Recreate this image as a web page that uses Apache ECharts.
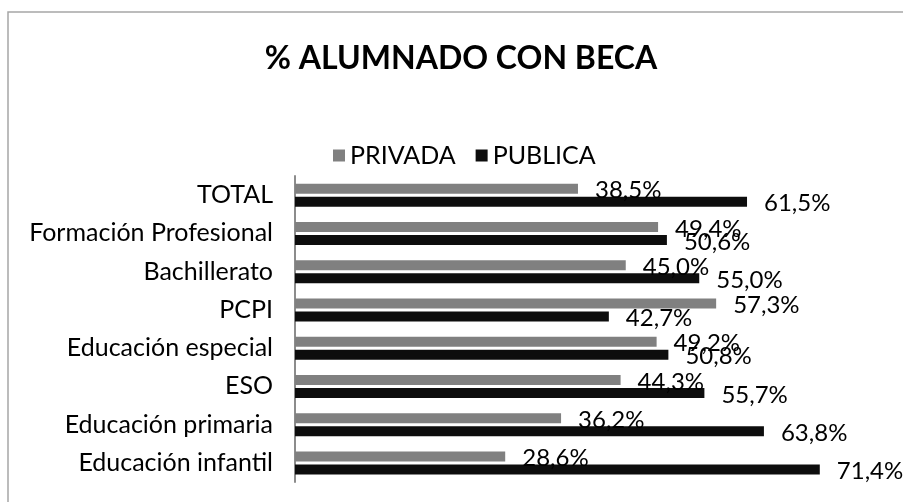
<!DOCTYPE html>
<html>
<head>
	<meta charset="utf-8">
	<title>% Alumnado con beca</title>
	<script src="https://cdn.jsdelivr.net/npm/echarts@6/dist/echarts.min.js"></script>
</head>
<body style="margin:0">
	<div id="main" style="width:903px;height:502px"></div>
	<script type="text/javascript">
// categorias de abajo hacia arriba
var categorias = ['Educación infantil', 'Educación primaria', 'ESO', 'Educación especial',
    'PCPI', 'Bachillerato', 'Formación Profesional', 'TOTAL'];
var privada = [28.6, 36.2, 44.3, 49.2, 57.3, 45.0, 49.4, 38.5];
var publica = [71.4, 63.8, 55.7, 50.8, 42.7, 55.0, 50.6, 61.5];

var fuente = 'Lato';

function etiqueta(p) {
    return p.value.toFixed(1).replace('.', ',') + '%';
}

var myChart = echarts.init(document.getElementById('main'));

var option = {
    backgroundColor: '#fff',
    animation: false,
    title: {
        text: '% ALUMNADO CON BECA',
        left: 456,
        textAlign: 'center',
        top: 38,
        textStyle: { fontFamily: fuente, fontWeight: 'bold', fontSize: 32, color: '#000' }
    },
    legend: {
        data: ['PRIVADA', 'PUBLICA'],
        top: 138,
        left: 328,
        itemWidth: 12,
        itemHeight: 12,
        itemGap: 20,
        icon: 'rect',
        textStyle: { fontFamily: fuente, fontSize: 25, color: '#000' }
    },
    graphic: [{
        type: 'rect',
        shape: { x: 8, y: 12, width: 1000, height: 1000 },
        style: { fill: 'none', stroke: '#a6a6a6', lineWidth: 1.5 },
        silent: true
    }],
    grid: { left: 295, right: 20, top: 176, bottom: 20 },
    xAxis: {
        type: 'value',
        min: 0,
        max: 80,
        show: false
    },
    yAxis: {
        type: 'category',
        data: categorias,
        axisLine: { lineStyle: { color: '#8c8c8c', width: 2 } },
        axisTick: { show: false },
        axisLabel: { fontFamily: fuente, fontSize: 25, color: '#000', margin: 22 }
    },
    series: [{
        name: 'PRIVADA',
        type: 'bar',
        data: privada,
        barWidth: 10,
        barGap: '30%',
        itemStyle: { color: '#808080' },
        label: {
            show: true, position: 'right', distance: 17, offset: [0, 2],
            formatter: etiqueta,
            fontFamily: fuente, fontSize: 24, color: '#000'
        }
    }, {
        name: 'PUBLICA',
        type: 'bar',
        data: publica,
        barWidth: 10,
        itemStyle: { color: '#0d0d0d' },
        label: {
            show: true, position: 'right', distance: 17, offset: [0, 2],
            formatter: etiqueta,
            fontFamily: fuente, fontSize: 24, color: '#000'
        }
    }]
};

myChart.setOption(option);
	</script>
</body>
</html>
